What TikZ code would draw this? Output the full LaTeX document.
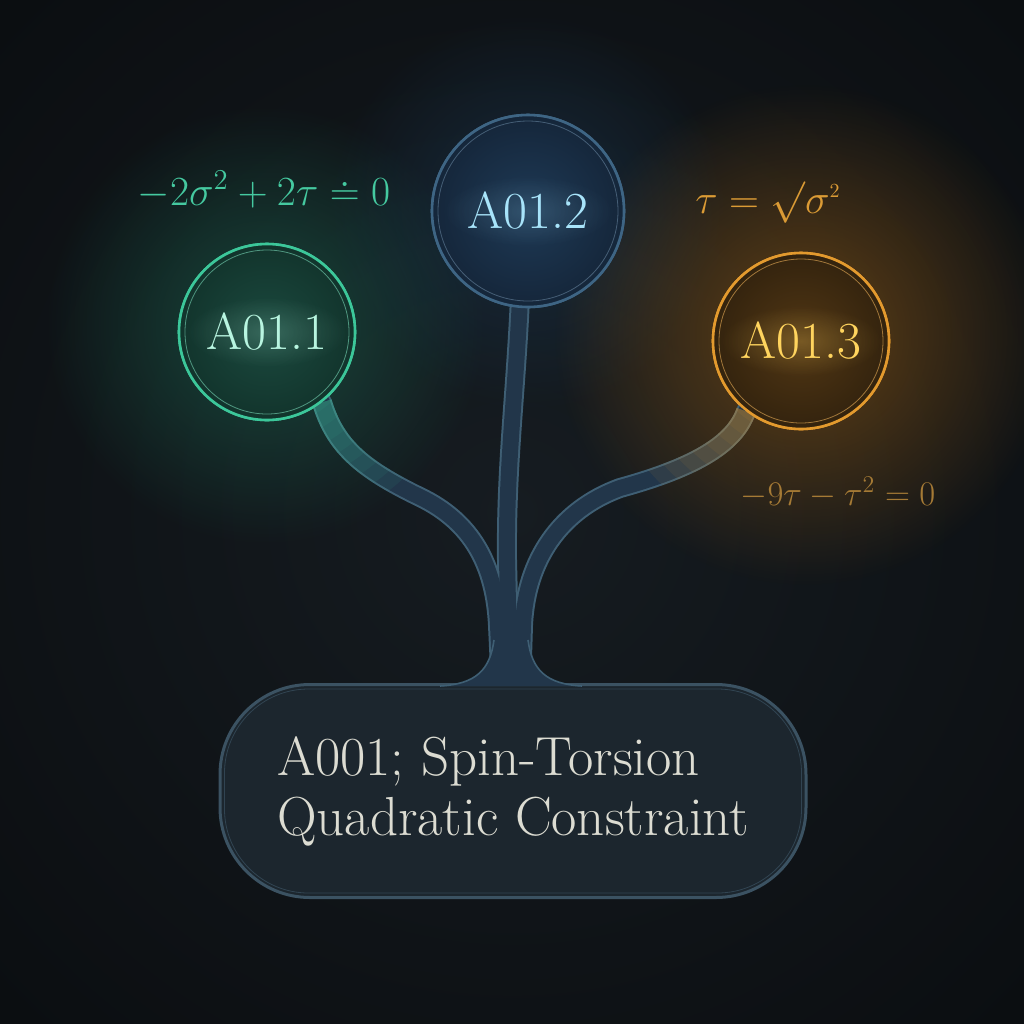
\documentclass[tikz,border=0pt]{standalone}
\usepackage{fontspec}
\usetikzlibrary{fadings}
\definecolor{bgIn}{HTML}{161C21}
\definecolor{bgOut}{HTML}{0B0E11}
\definecolor{glowG}{HTML}{1F7A5F}
\definecolor{glowB}{HTML}{1E4466}
\definecolor{glowO}{HTML}{9A5E12}
\definecolor{ringG}{HTML}{3CC79A}
\definecolor{fillGi}{HTML}{1B4A3F}
\definecolor{fillGo}{HTML}{12342C}
\definecolor{labG}{HTML}{B8F5E0}
\definecolor{eqG}{HTML}{45C9A0}
\definecolor{ringB}{HTML}{3E6584}
\definecolor{fillBi}{HTML}{1E3A56}
\definecolor{fillBo}{HTML}{15263A}
\definecolor{labB}{HTML}{A8E4FA}
\definecolor{ringO}{HTML}{E39A2E}
\definecolor{fillOi}{HTML}{523714}
\definecolor{fillOo}{HTML}{33230E}
\definecolor{labO}{HTML}{FFD45E}
\definecolor{eqO}{HTML}{DB9B35}
\definecolor{eqOd}{HTML}{A57A35}
\definecolor{boxFill}{HTML}{1C262E}
\definecolor{boxDraw}{HTML}{3B5262}
\definecolor{boxText}{HTML}{DCDCD2}
\definecolor{stemE}{HTML}{3F5F74}
\definecolor{stemF}{HTML}{22364A}
\tikzfading[name=glowfade, inner color=transparent!0, outer color=transparent!100]
\begin{document}
\begin{tikzpicture}[x=0.5pt,y=-0.5pt,
  bubble/.style={circle, draw, line width=1.3pt, inner sep=0pt, font=\fontsize{26}{30}\selectfont},
  stemedge/.style={draw=stemE, line width=10pt, line cap=round},
  stemfill/.style={draw=stemF, line width=8pt, line cap=round},
  eq/.style={font=\fontsize{19.6}{23}\selectfont, inner sep=0pt, anchor=base},
  box/.style={draw=boxDraw, line width=1.5pt, fill=boxFill, rounded corners=45pt,
     minimum width=293pt, minimum height=106.5pt, align=left, text=boxText,
     font=\fontsize{27.5}{30}\selectfont}]
\useasboundingbox (0,0) rectangle (1024,1024);
\shade[inner color=bgIn, outer color=bgOut] (-200,-200) rectangle (1224,1224);
% glows
\fill[glowG, path fading=glowfade, fill opacity=0.5] (265,325) circle[radius=220];
\fill[glowB, path fading=glowfade, fill opacity=0.45] (528,212) circle[radius=200];
\fill[glowO, path fading=glowfade, fill opacity=0.6] (805,335) circle[radius=250];
% bubbles (named)
\node[bubble, minimum size=88pt, draw=ringG, inner color=fillGi, outer color=fillGo, text=labG] (g) at (267,332) {A01.1};
\node[bubble, minimum size=96pt, draw=ringB, inner color=fillBi, outer color=fillBo, text=labB] (b) at (528,211) {A01.2};
\node[bubble, minimum size=88pt, draw=ringO, inner color=fillOi, outer color=fillOo, text=labO] (o) at (801,341) {A01.3};
\coordinate (tg) at (501,690);
\coordinate (tb) at (510,690);
\coordinate (to) at (521,690);
% stems
\foreach \s in {stemedge, stemfill}{
\draw[\s] (g.-52) .. controls (335,445) and (360,468) .. (420,497) .. controls (472,522) and (495,565) .. (498,625) -- (tg);
\draw[\s] (b.265) .. controls (515,400) and (506,470) .. (507,560) -- (tb);
\draw[\s] (o.232) .. controls (735,442) and (700,466) .. (620,488) .. controls (560,510) and (526,560) .. (523,625) -- (to);
}
% tints near bubbles
\foreach \r in {200,185,170,155,140,125,110,95}{
\begin{scope}
\clip (g) circle[radius=\r];
\draw[line width=10pt, draw=ringG, opacity=0.07] (g.-52) .. controls (335,445) and (360,468) .. (420,497) .. controls (472,522) and (495,565) .. (498,625);
\end{scope}
\begin{scope}
\clip (o) circle[radius=\r];
\draw[line width=10pt, draw=ringO, opacity=0.07] (o.232) .. controls (735,442) and (700,466) .. (620,488) .. controls (560,510) and (526,560) .. (523,625);
\end{scope}
}
% box
\node[box] (box) at (513,791) {A001; Spin-Torsion\\Quadratic Constraint};
\draw[boxDraw, line width=0.4pt, opacity=0.7, rounded corners=42pt] ([shift={(6,6)}]box.north west) rectangle ([shift={(-6,-6)}]box.south east);
% flare at base of trunk
\fill[stemF] (440,686) .. controls (476,684) and (490,670) .. (494,640) -- (528,640) .. controls (532,670) and (546,684) .. (582,686) -- cycle;
\draw[stemE, line width=0.8pt] (440,686) .. controls (476,684) and (490,670) .. (494,640);
\draw[stemE, line width=0.8pt] (582,686) .. controls (546,684) and (532,670) .. (528,640);
% bubbles on top
\node[bubble, minimum size=88pt, draw=ringG, inner color=fillGi, outer color=fillGo, text=labG] at (g) {A01.1};
\node[bubble, minimum size=96pt, draw=ringB, inner color=fillBi, outer color=fillBo, text=labB] at (b) {A01.2};
\node[bubble, minimum size=88pt, draw=ringO, inner color=fillOi, outer color=fillOo, text=labO] at (o) {A01.3};
\draw[ringG!70!white, line width=0.4pt, opacity=0.6] (g) circle[radius=82];
\draw[ringB!80!white, line width=0.4pt, opacity=0.6] (b) circle[radius=90];
\draw[ringO!80!white, line width=0.4pt, opacity=0.6] (o) circle[radius=82];
% label glows
\fill[labG, path fading=glowfade, fill opacity=0.18] (g) ellipse[x radius=80, y radius=35];
\fill[labB, path fading=glowfade, fill opacity=0.15] (b) ellipse[x radius=85, y radius=35];
\fill[labO, path fading=glowfade, fill opacity=0.22] (o) ellipse[x radius=80, y radius=35];
% equations
\node[eq, text=eqG] (eqg) at (264,205) {$-2\sigma^2 + 2\tau \doteq 0$};
\node[eq, text=eqO] (eqo) at (768,213) {$\tau = \surd\sigma^{\scriptscriptstyle 2}$};
\node[eq, text=eqOd, font=\fontsize{18.6}{22}\selectfont] (eqo2) at (838,505) {$-9\tau - \tau^2 = 0$};
\end{tikzpicture}
\end{document}
